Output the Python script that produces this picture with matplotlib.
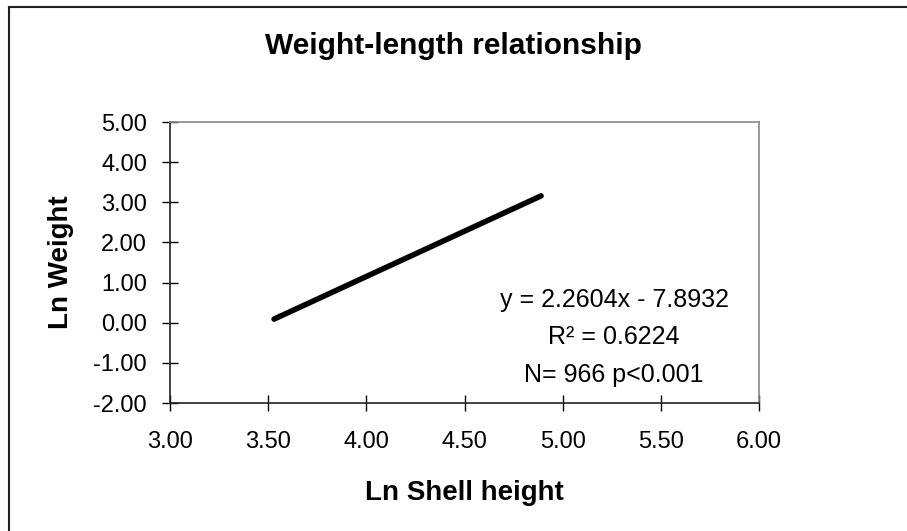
import matplotlib.pyplot as plt
from matplotlib.lines import Line2D

plt.rcParams['font.family'] = ['Liberation Sans', 'DejaVu Sans']

# trend line endpoints (Ln shell height, Ln weight)
ln_height = [3.53, 4.89]
ln_weight = [0.09, 3.16]

x_ticks = [3.0, 3.5, 4.0, 4.5, 5.0, 5.5, 6.0]
y_ticks = [-2.0, -1.0, 0.0, 1.0, 2.0, 3.0, 4.0, 5.0]

fit_text = ["y = 2.2604x - 7.8932", "R\u00b2 = 0.6224", "N= 966 p<0.001"]

fig = plt.figure(figsize=(9.07, 5.31), dpi=100)
ax = fig.add_axes([170 / 907, 128 / 531, 589 / 907, 281 / 531])

ax.plot(ln_height, ln_weight, color='black', linewidth=4, solid_capstyle='round')

ax.set_xlim(3.0, 6.0)
ax.set_ylim(-2.0, 5.0)
ax.set_xticks(x_ticks)
ax.set_yticks(y_ticks)
ax.set_xticklabels([f"{v:.2f}" for v in x_ticks])
ax.set_yticklabels([f"{v:.2f}" for v in y_ticks])
ax.tick_params(direction='inout', length=11, width=1, labelsize=17, pad=11)
ax.tick_params(axis='x', pad=15)

for s in ['left', 'bottom']:
    ax.spines[s].set_color('#222222')
    ax.spines[s].set_linewidth(1.2)
for s in ['top', 'right']:
    ax.spines[s].set_color('#888888')
    ax.spines[s].set_linewidth(1.2)

ax.set_xlabel('Ln Shell height', fontsize=20, fontweight='bold', labelpad=19)
ax.set_ylabel('Ln Weight', fontsize=20, fontweight='bold', labelpad=14)

fig.text(453 / 907, 1 - 46 / 531, 'Weight-length relationship', ha='center', va='center',
         fontsize=21.5, fontweight='bold')

for i, t in enumerate(fit_text):
    fig.text(614 / 907, 1 - (300 + 37.5 * i) / 531, t, ha='center', va='center', fontsize=18)

# chart border (top and left edges visible)
fig.add_artist(Line2D([8.5 / 907, 8.5 / 907], [0, 1 - 6.5 / 531], transform=fig.transFigure,
                      color='#222222', linewidth=1.5))
fig.add_artist(Line2D([8.5 / 907, 1], [1 - 6.5 / 531, 1 - 6.5 / 531], transform=fig.transFigure,
                      color='#222222', linewidth=1.5))

fig.savefig('out.png', dpi=100)
